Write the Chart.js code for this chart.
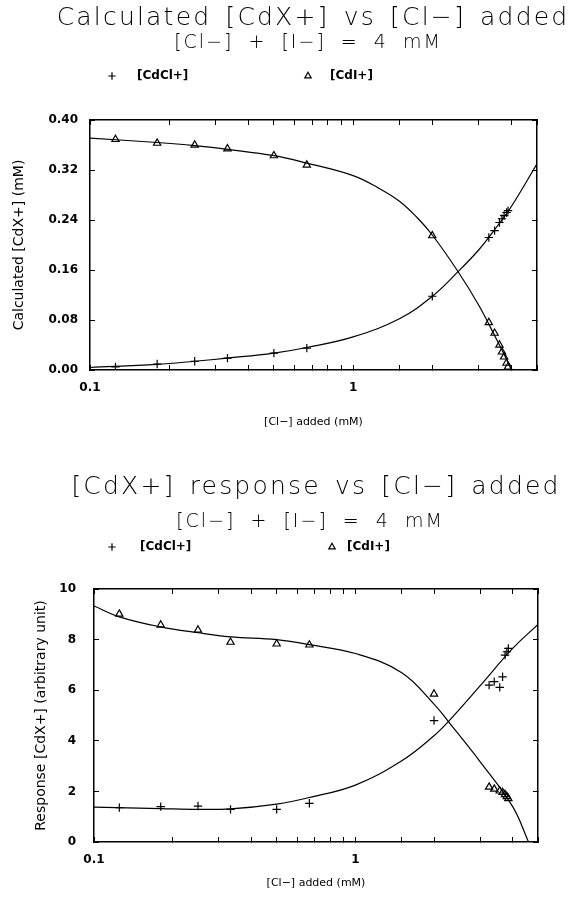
<!DOCTYPE html>
<html>
<head>
<meta charset="utf-8">
<script src="https://cdn.jsdelivr.net/npm/chart.js@4.4.1/dist/chart.umd.min.js"></script>
<style>
  html, body { margin: 0; padding: 0; background: #fff; }
  canvas { display: block; }
</style>
</head>
<body>
<canvas id="calcChart" width="572" height="451"></canvas>
<canvas id="respChart" width="572" height="451"></canvas>
<script>
// ---- upper panel: calculated [CdX+] (mM) ----
const calcClAdded = [0.125, 0.18, 0.25, 0.333, 0.5, 0.667, 2.0, 3.28, 3.45, 3.6, 3.68, 3.75, 3.83, 3.88];
const calcCdCl = [0.005, 0.0096, 0.014, 0.019, 0.027, 0.035, 0.118, 0.212, 0.223, 0.236, 0.242, 0.247, 0.252, 0.255];
const calcCdI = [0.369, 0.363, 0.360, 0.354, 0.343, 0.328, 0.215, 0.076, 0.059, 0.040, 0.029, 0.021, 0.011, 0.005];
const calcCdClFitX = [0.1, 0.18, 0.25, 0.333, 0.5, 0.667, 1, 1.5, 2, 2.5, 3, 3.5, 4, 5];
const calcCdClFit = [0.004, 0.009, 0.014, 0.019, 0.027, 0.036, 0.053, 0.082, 0.118, 0.157, 0.192, 0.228, 0.262, 0.330];
const calcCdIFitX = [0.1, 0.18, 0.25, 0.333, 0.5, 0.667, 1, 1.25, 1.5, 1.75, 2, 2.5, 3, 3.5, 3.8, 4.0];
const calcCdIFit = [0.371, 0.364, 0.359, 0.353, 0.343, 0.331, 0.311, 0.291, 0.270, 0.244, 0.216, 0.158, 0.104, 0.050, 0.020, 0.0];
const calcYTicks = [0, 0.08, 0.16, 0.24, 0.32, 0.40];

// ---- lower panel: measured response (arbitrary unit) ----
const respClAdded = [0.125, 0.18, 0.25, 0.333, 0.5, 0.667, 2.0, 3.25, 3.4, 3.57, 3.66, 3.74, 3.8, 3.85];
const respCdCl = [1.36, 1.40, 1.42, 1.29, 1.29, 1.53, 4.8, 6.2, 6.34, 6.11, 6.53, 7.39, 7.52, 7.65];
const respCdI = [9.01, 8.58, 8.38, 7.90, 7.83, 7.79, 5.85, 2.17, 2.09, 2.02, 1.96, 1.88, 1.80, 1.72];
const respCdClFitX = [0.1, 0.18, 0.25, 0.333, 0.5, 0.667, 1, 1.5, 2, 2.27, 3, 4, 5];
const respCdClFit = [1.38, 1.32, 1.29, 1.31, 1.50, 1.76, 2.25, 3.2, 4.2, 4.76, 6.17, 7.65, 8.6];
const respCdIFitX = [0.1, 0.125, 0.18, 0.25, 0.333, 0.5, 0.667, 1, 1.5, 2, 2.27, 3, 4, 4.6];
const respCdIFit = [9.33, 8.9, 8.5, 8.27, 8.11, 8.0, 7.8, 7.45, 6.7, 5.45, 4.76, 3.18, 1.4, 0];
const respYTicks = [0, 2, 4, 6, 8, 10];

const xTickLabels = [0.1, 1];
const seriesNames = ['[CdCl+]', '[CdI+]'];

const FONT = "'DejaVu Sans', 'Liberation Sans', sans-serif";
const pts = (xs, ys) => xs.map((x, i) => ({ x: x, y: ys[i] }));

// titles + legend row, drawn on the canvas above the plot frame
const headerPlugin = {
    id: 'header',
    afterDraw(chart, args, opts) {
        const ctx = chart.ctx;
        ctx.save();
        ctx.fillStyle = '#000';
        ctx.strokeStyle = '#000';
        ctx.textAlign = 'center';
        ctx.textBaseline = 'middle';

        ctx.font = '200 25px ' + FONT;
        ctx.letterSpacing = '2.2px';
        ctx.wordSpacing = '4px';
        ctx.fillText(opts.title, opts.cx, opts.titleY);

        ctx.font = '200 19px ' + FONT;
        ctx.letterSpacing = '2px';
        ctx.wordSpacing = '7px';
        ctx.fillText(opts.subtitle, opts.subCx, opts.subY);

        ctx.letterSpacing = '0px';
        ctx.wordSpacing = '0px';
        ctx.font = 'bold 12px ' + FONT;
        ctx.textAlign = 'left';
        opts.legend.forEach((item, i) => {
            const ds = chart.data.datasets[i];
            ctx.lineWidth = 1.2;
            ctx.fillStyle = 'rgba(0,0,0,0)';
            Chart.helpers.drawPoint(ctx, {
                pointStyle: ds.pointStyle, rotation: 0,
                radius: ds.pointRadius - 0.5, borderWidth: 1.2
            }, item.mx, opts.legendY);
            ctx.fillStyle = '#000';
            ctx.fillText(ds.label, item.tx, opts.legendY);
        });
        ctx.restore();
    }
};

function frameAxes(cfg) {
    const grid = { drawOnChartArea: false, drawTicks: true, tickLength: -5, color: '#000', lineWidth: 1 };
    const border = { display: true, color: '#000', width: 1.5 };
    const tickFont = { family: FONT, size: 12, weight: 'bold' };
    const yTicksFn = s => { s.ticks = cfg.yTicks.map(v => ({ value: v })); };
    return {
        x: {
            type: 'logarithmic', position: 'bottom', min: 0.1, max: 5,
            grid: grid, border: border,
            ticks: {
                autoSkip: false, maxRotation: 0, padding: 16, color: '#000', font: tickFont,
                callback: v => {
                    const t = xTickLabels.find(l => Math.abs(l - v) < 1e-9);
                    return t === undefined ? '' : String(t);
                }
            },
            title: {
                display: true, text: '[Cl−] added (mM)', color: '#000',
                font: { family: FONT, size: 11 }, padding: { top: 0, bottom: cfg.xTitlePad }
            },
            afterFit: s => { s.height = cfg.xHeight; }
        },
        xTop: {
            type: 'logarithmic', position: 'top', min: 0.1, max: 5,
            grid: grid, border: border, ticks: { display: false },
            afterFit: s => { s.height = 0; }
        },
        y: {
            type: 'linear', position: 'left', min: cfg.yMin, max: cfg.yMax,
            afterBuildTicks: yTicksFn,
            grid: grid, border: border,
            ticks: { padding: cfg.yTickPad, color: '#000', font: tickFont, callback: cfg.yFmt },
            title: {
                display: true, text: cfg.yTitle, color: '#000',
                font: { family: FONT, size: 14 }, padding: { top: cfg.yTitlePad, bottom: 0 }
            },
            afterFit: s => { s.width = cfg.yWidth; }
        },
        yRight: {
            type: 'linear', position: 'right', min: cfg.yMin, max: cfg.yMax,
            afterBuildTicks: yTicksFn,
            grid: grid, border: border, ticks: { display: false },
            afterFit: s => { s.width = 0; }
        }
    };
}

function makeDatasets(xs, cdcl, cdi, clFitX, clFit, iFitX, iFit) {
    const fit = {
        showLine: true, pointRadius: 0, borderColor: '#000', borderWidth: 1.2,
        tension: 0.4, fill: false
    };
    return [
        {
            label: seriesNames[0], data: pts(xs, cdcl), pointStyle: 'cross',
            pointRadius: 4.2, pointBorderWidth: 1.2, borderColor: '#000', backgroundColor: '#000'
        },
        {
            label: seriesNames[1], data: pts(xs, cdi), pointStyle: 'triangle',
            pointRadius: 4.2, pointBorderWidth: 1.2, borderColor: '#000', backgroundColor: 'rgba(0,0,0,0)'
        },
        Object.assign({ label: seriesNames[0] + ' fit', data: pts(clFitX, clFit) }, fit),
        Object.assign({ label: seriesNames[1] + ' fit', data: pts(iFitX, iFit) }, fit)
    ];
}

new Chart(document.getElementById('calcChart'), {
    type: 'scatter',
    data: {
        datasets: makeDatasets(calcClAdded, calcCdCl, calcCdI,
            calcCdClFitX, calcCdClFit, calcCdIFitX, calcCdIFit)
    },
    options: {
        responsive: false, animation: false, devicePixelRatio: 1, events: [],
        layout: { padding: { top: 120, right: 35, bottom: 0, left: 0 } },
        scales: frameAxes({
            yMin: 0, yMax: 0.4, yTicks: calcYTicks, yFmt: v => v.toFixed(2),
            yTitle: 'Calculated [CdX+] (mM)', yTitlePad: 10.6, yTickPad: 17, yWidth: 90,
            xHeight: 81, xTitlePad: 22.4
        }),
        plugins: {
            legend: { display: false },
            tooltip: { enabled: false },
            header: {
                title: 'Calculated [CdX+] vs [Cl−] added', cx: 313, titleY: 18,
                subtitle: '[Cl−] + [I−] = 4 mM', subCx: 308, subY: 43,
                legendY: 76, legend: [{ mx: 112, tx: 137 }, { mx: 308, tx: 330 }]
            }
        }
    },
    plugins: [headerPlugin]
});

new Chart(document.getElementById('respChart'), {
    type: 'scatter',
    data: {
        datasets: makeDatasets(respClAdded, respCdCl, respCdI,
            respCdClFitX, respCdClFit, respCdIFitX, respCdIFit)
    },
    options: {
        responsive: false, animation: false, devicePixelRatio: 1, events: [],
        layout: { padding: { top: 138, right: 34, bottom: 0, left: 0 } },
        scales: frameAxes({
            yMin: 0, yMax: 10, yTicks: respYTicks, yFmt: v => String(v),
            yTitle: 'Response [CdX+] (arbitrary unit)', yTitlePad: 32.6, yTickPad: 23, yWidth: 94,
            xHeight: 60, xTitlePad: 12.4
        }),
        plugins: {
            legend: { display: false },
            tooltip: { enabled: false },
            header: {
                title: '[CdX+] response vs [Cl−] added', cx: 316, titleY: 36,
                subtitle: '[Cl−] + [I−] = 4 mM', subCx: 310, subY: 71,
                legendY: 96, legend: [{ mx: 112, tx: 140 }, { mx: 332, tx: 347 }]
            }
        }
    },
    plugins: [headerPlugin]
});
</script>
</body>
</html>
